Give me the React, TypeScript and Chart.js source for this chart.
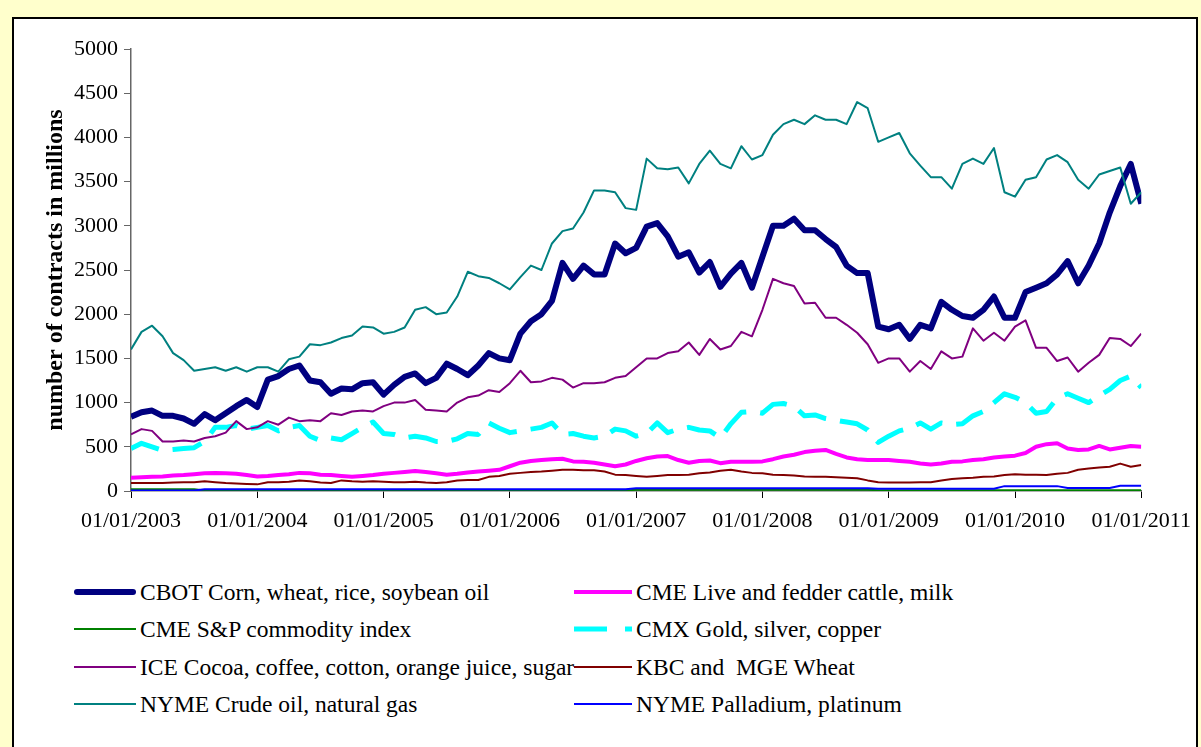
import React, { useEffect, useRef } from "react";
import { Chart, registerables } from "chart.js";

Chart.register(...registerables);

const YEAR_LABELS = ["01/01/2003", "01/01/2004", "01/01/2005", "01/01/2006", "01/01/2007", "01/01/2008", "01/01/2009", "01/01/2010", "01/01/2011"];

// monthly values, Jan 2003 .. Jan 2011 (97 points)
const CBOT = [
  840, 890, 910, 850, 850, 820, 760, 870, 800, 880,
  960, 1030, 950, 1260, 1300, 1380, 1420, 1250, 1230, 1100,
  1160, 1150, 1220, 1230, 1090, 1200, 1290, 1330, 1220, 1280,
  1440, 1380, 1310, 1420, 1560, 1500, 1480, 1780, 1920, 2000,
  2150, 2580, 2400, 2550, 2450, 2450, 2800, 2690, 2750, 2990,
  3030, 2880, 2650, 2700, 2470, 2590, 2310, 2460, 2580, 2300,
  2650, 3000, 3000, 3080, 2950, 2950, 2850, 2760, 2550, 2465,
  2465, 1860, 1830, 1880, 1720, 1880, 1840, 2140, 2050, 1980,
  1960, 2050, 2200, 1960, 1960, 2250, 2300, 2350, 2450, 2600,
  2350, 2550, 2800, 3150, 3450, 3700, 3250,
];
const CME_CATTLE = [
  150, 155, 160, 165, 175, 180, 190, 200, 205, 200,
  195, 180, 165, 170, 180, 190, 205, 200, 185, 180,
  170, 160, 170, 180, 195, 205, 215, 225, 215, 200,
  185, 195, 210, 220, 230, 240, 280, 320, 340, 350,
  360, 365, 335, 330, 320, 300, 280, 300, 340, 370,
  390, 395, 350, 320, 340, 345, 315, 330, 330, 330,
  335, 360, 390, 410, 440, 455, 465, 420, 380, 360,
  350, 350, 350, 340, 330, 310, 300, 310, 330, 335,
  350, 360, 380, 390, 400, 430, 500, 530, 540, 480,
  465, 470, 510, 470, 490, 510, 500,
];
const CME_SP = [
  20, 20, 20, 20, 20, 20, 20, 5, 5, 5,
  5, 5, 5, 5, 5, 5, 5, 5, 5, 5,
  5, 5, 5, 5, 5, 5, 5, 5, 5, 5,
  5, 5, 5, 5, 5, 5, 5, 5, 5, 5,
  5, 5, 5, 5, 5, 5, 5, 5, 15, 15,
  15, 15, 15, 15, 15, 15, 15, 15, 15, 15,
  15, 15, 15, 15, 15, 15, 15, 15, 15, 15,
  15, 8, 8, 8, 8, 8, 8, 8, 8, 8,
  8, 8, 8, 8, 8, 8, 8, 8, 8, 8,
  8, 8, 8, 8, 8, 8, 8,
];
const CMX = [
  480, 540, 500, 460, 470, 480, 490, 560, 720, 720,
  740, 700, 720, 740, 680, 720, 740, 620, 570, 600,
  580, 650, 720, 780, 650, 640, 600, 620, 600, 560,
  560, 590, 650, 640, 770, 710, 660, 680, 700, 720,
  770, 640, 650, 620, 600, 620, 700, 680, 620, 650,
  770, 660, 700, 720, 690, 680, 600, 760, 890, 900,
  880, 980, 990, 960, 850, 860, 820, 800, 780, 760,
  690, 550, 620, 680, 710, 770, 700, 770, 750, 760,
  850, 900, 1000, 1100, 1060, 1000, 880, 900, 1050, 1100,
  1050, 1000, 1080, 1150, 1250, 1300, 1170,
];
const ICE = [
  640, 700, 680, 560, 560, 570, 560, 600, 620, 660,
  790, 700, 720, 790, 750, 830, 790, 800, 790, 880,
  860, 900, 910, 900, 960, 1000, 1000, 1030, 920, 910,
  900, 1000, 1060, 1080, 1140, 1120, 1220, 1360, 1230, 1240,
  1280, 1260, 1170, 1220, 1220, 1230, 1280, 1300, 1400, 1500,
  1500, 1560, 1580, 1680, 1540, 1720, 1600, 1640, 1800, 1750,
  2050, 2400, 2350, 2320, 2120, 2130, 1960, 1960, 1880, 1790,
  1660, 1450, 1500, 1500, 1350, 1470, 1380, 1580, 1500, 1520,
  1840, 1700, 1790, 1700, 1860, 1930, 1620, 1620, 1470, 1510,
  1350, 1450, 1540, 1730, 1720, 1640, 1780,
];
const KBC_MGE = [
  90, 90, 90, 90, 95, 100, 100, 110, 100, 90,
  85, 80, 75, 100, 100, 105, 120, 110, 95, 90,
  120, 110, 105, 110, 105, 100, 100, 105, 95, 90,
  100, 120, 125, 125, 160, 170, 195, 205, 215, 220,
  230, 240, 240, 235, 235, 220, 185, 180, 170, 160,
  170, 180, 180, 185, 200, 210, 230, 240, 220, 205,
  200, 185, 180, 175, 165, 160, 160, 155, 150, 145,
  120, 100, 95, 95, 95, 100, 100, 120, 135, 145,
  150, 160, 165, 180, 190, 185, 185, 180, 195, 205,
  240, 255, 265, 275, 310, 275, 295,
];
const NYME_CRUDE = [
  1600, 1800, 1870, 1750, 1560, 1480, 1360, 1380, 1400, 1360,
  1400, 1350, 1400, 1400, 1350, 1490, 1520, 1660, 1650, 1680,
  1730, 1760, 1860, 1850, 1780, 1800, 1850, 2050, 2080, 2000,
  2020, 2200, 2480, 2430, 2410, 2350, 2280, 2420, 2550, 2500,
  2800, 2940, 2970, 3150, 3400, 3400, 3380, 3200, 3180, 3760,
  3650, 3640, 3660, 3480, 3700, 3850, 3700, 3650, 3900, 3750,
  3800, 4030, 4150, 4200, 4150, 4250, 4200, 4200, 4150, 4400,
  4330, 3950, 4000, 4050, 3820, 3680, 3550, 3550, 3420, 3700,
  3760, 3700, 3880, 3380, 3330, 3520, 3550, 3750, 3800, 3720,
  3520, 3420, 3580, 3620, 3660, 3250, 3380,
];
const NYME_PALL = [
  5, 5, 5, 5, 5, 5, 5, 20, 20, 20,
  20, 20, 20, 20, 20, 20, 20, 20, 20, 20,
  20, 20, 20, 20, 20, 20, 20, 20, 20, 20,
  20, 20, 20, 20, 20, 20, 20, 20, 20, 20,
  20, 20, 20, 20, 20, 20, 20, 20, 30, 30,
  30, 30, 30, 30, 30, 30, 30, 30, 30, 30,
  30, 30, 30, 30, 30, 30, 30, 30, 30, 30,
  30, 25, 25, 25, 25, 25, 25, 25, 25, 25,
  25, 25, 25, 55, 55, 55, 55, 55, 55, 35,
  35, 35, 35, 35, 60, 60, 60,
];

const SERIES = [
  { label: "CBOT Corn, wheat, rice, soybean oil", data: CBOT, color: "#000080", width: 6, dash: [] as number[] },
  { label: "CME Live and fedder cattle, milk", data: CME_CATTLE, color: "#FF00FF", width: 4, dash: [] as number[] },
  { label: "CME S&P commodity index", data: CME_SP, color: "#008000", width: 2, dash: [] as number[] },
  { label: "CMX Gold, silver, copper", data: CMX, color: "#00FFFF", width: 5, dash: [30, 14] },
  { label: "ICE Cocoa, coffee, cotton, orange juice, sugar", data: ICE, color: "#800080", width: 2, dash: [] as number[] },
  { label: "KBC and  MGE Wheat", data: KBC_MGE, color: "#800000", width: 2, dash: [] as number[] },
  { label: "NYME Crude oil, natural gas", data: NYME_CRUDE, color: "#008080", width: 2, dash: [] as number[] },
  { label: "NYME Palladium, platinum", data: NYME_PALL, color: "#0000FF", width: 2, dash: [] as number[] },
];

const FONT = "'Liberation Serif', 'Times New Roman', serif";

export default function App() {
  const ref = useRef<HTMLCanvasElement | null>(null);

  useEffect(() => {
    if (!ref.current) return;
    const chart = new Chart(ref.current, {
      type: "line",
      data: {
        datasets: SERIES.map((s, i) => ({
          label: s.label,
          data: s.data.map((v, k) => ({ x: k, y: v })),
          borderColor: s.color,
          backgroundColor: s.color,
          borderWidth: s.width,
          borderDash: s.dash,
          borderJoinStyle: "round" as const,
          pointRadius: 0,
          tension: 0,
          fill: false,
          order: -i,
        })),
      },
      options: {
        animation: false,
        responsive: false,
        devicePixelRatio: 1,
        layout: { padding: { left: 0, top: 49, right: 56, bottom: 0 } },
        plugins: { legend: { display: false }, tooltip: { enabled: false } },
        scales: {
          x: {
            type: "linear",
            min: 0,
            max: 96,
            afterFit: (s: any) => { s.height = 69; },
            ticks: {
              stepSize: 12,
              autoSkip: false,
              maxRotation: 0,
              padding: 10,
              color: "#000",
              font: { family: FONT, size: 22 },
              callback: (v: any) => YEAR_LABELS[Math.round(Number(v) / 12)] ?? "",
            },
            grid: { drawOnChartArea: false, drawTicks: true, tickLength: 7, color: "#000" },
            border: { display: true, color: "#666", width: 1.5 },
          },
          y: {
            min: 0,
            max: 5000,
            afterFit: (s: any) => { s.width = 131; },
            ticks: {
              stepSize: 500,
              padding: 6,
              color: "#000",
              font: { family: FONT, size: 22 },
              callback: (v: any) => String(v),
            },
            title: {
              display: true,
              text: "number of contracts in millions",
              color: "#000",
              font: { family: FONT, size: 24, weight: "bold" },
              padding: { top: 41, bottom: 0 },
            },
            grid: { drawOnChartArea: false, drawTicks: true, tickLength: 7, color: "#666" },
            border: { display: true, color: "#666", width: 1.5 },
          },
        },
      },
    });
    return () => chart.destroy();
  }, []);

  const rows = [592, 629, 667, 704];
  const legendItems = SERIES.map((s, i) => {
    const col = i % 2;
    const row = Math.floor(i / 2);
    const lineX = col === 0 ? 74 : 574;
    const lineW = col === 0 ? 62 : 58;
    const textX = col === 0 ? 140 : 636;
    const y = rows[row];
    const thickSolid = s.width > 4 && s.dash.length === 0;
    return (
      <React.Fragment key={s.label}>
        <svg style={{ position: "absolute", left: lineX, top: y - 5, width: lineW, height: 10 }}>
          <line
            x1={thickSolid ? 3 : 0}
            y1={5}
            x2={lineW - (thickSolid ? 3 : 0)}
            y2={5}
            stroke={s.color}
            strokeWidth={s.width}
            strokeLinecap={thickSolid ? "round" : "butt"}
            strokeDasharray={s.dash.length ? "33 18" : undefined}
          />
        </svg>
        <div
          style={{
            position: "absolute",
            left: textX,
            top: y - 15,
            height: 30,
            lineHeight: "30px",
            fontFamily: FONT,
            fontSize: 23.5,
            color: "#000",
            whiteSpace: "pre",
          }}
        >
          {s.label}
        </div>
      </React.Fragment>
    );
  });

  return (
    <div style={{ position: "fixed", left: 0, top: 0, width: 1201, height: 747, background: "#FFFFCC", overflow: "hidden" }}>
      <div
        style={{
          position: "absolute",
          left: 12,
          top: 17,
          width: 1186,
          height: 800,
          border: "2px solid #000",
          background: "#fff",
          boxSizing: "border-box",
        }}
      />
      <canvas ref={ref} width={1201} height={560} style={{ position: "absolute", left: 0, top: 0, width: 1201, height: 560 }} />
      {legendItems}
    </div>
  );
}
